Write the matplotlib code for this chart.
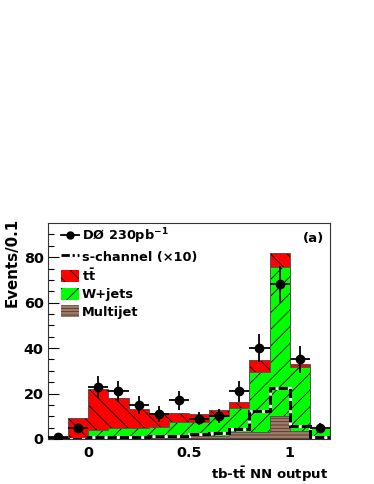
import numpy as np
import matplotlib
matplotlib.use("Agg")
import matplotlib.pyplot as plt
from matplotlib.lines import Line2D
from matplotlib.patches import Patch

plt.rcParams["font.family"] = ["DejaVu Sans"]
plt.rcParams["font.weight"] = "bold"
plt.rcParams["axes.labelweight"] = "bold"
plt.rcParams["mathtext.fontset"] = "custom"
plt.rcParams["mathtext.rm"] = "DejaVu Sans:bold"
plt.rcParams["mathtext.it"] = "DejaVu Sans:bold"
plt.rcParams["mathtext.bf"] = "DejaVu Sans:bold"
plt.rcParams["mathtext.default"] = "rm"
plt.rcParams["hatch.linewidth"] = 0.6

# binning of the NN output
bin_edges = [-0.2, -0.1, 0.0, 0.1, 0.2, 0.3, 0.4, 0.5, 0.6, 0.7, 0.8, 0.9, 1.0, 1.1, 1.2]
bin_centers = [-0.15, -0.05, 0.05, 0.15, 0.25, 0.35, 0.45, 0.55, 0.65, 0.75, 0.85, 0.95, 1.05, 1.15]

# stacked backgrounds (per bin, not cumulative)
multijet = [0.3, 0.2, 0.8, 1.0, 1.0, 1.2, 1.3, 1.5, 1.5, 3.0, 3.0, 10.1, 3.5, 0.5]
wjets    = [0.2, 0.1, 3.1, 3.7, 3.7, 4.0, 6.0, 6.1, 8.4, 10.8, 26.7, 65.6, 28.0, 4.2]
ttbar    = [0.5, 9.1, 18.1, 13.5, 8.3, 6.4, 4.3, 3.6, 2.7, 2.5, 4.9, 6.3, 1.5, 0.0]

# s-channel signal x10
schan = [0.0, 0.0, 0.8, 1.0, 1.0, 1.2, 1.5, 2.0, 2.5, 4.4, 12.3, 22.5, 5.7, 1.0]

# data
data = [1, 5, 23, 21, 15, 11, 17, 9, 10, 21, 40, 68, 35, 5]

mj = np.array(multijet); wj = np.array(wjets); tt = np.array(ttbar)
x = np.array(bin_centers); w = 0.1

fig = plt.figure(figsize=(3.74, 4.84), dpi=100)
ax = fig.add_axes([0.1283, 0.093, 0.754, 0.446])

ax.bar(x, mj, width=w, color="#a07b6b", hatch="-----", edgecolor="#4a3528", linewidth=0)
ax.bar(x, wj, width=w, bottom=mj, color="#00ff00", hatch="//", edgecolor="black", linewidth=0)
ax.bar(x, tt, width=w, bottom=mj + wj, color="#ff0000", hatch="\\\\", edgecolor="black", linewidth=0)
# outlines of each stacked layer
for top in [mj, mj + wj, mj + wj + tt]:
    ax.stairs(top, bin_edges, baseline=None, color="#555555", lw=0.7)

ax.stairs(schan, bin_edges, baseline=0, color="white", lw=2.2)
ax.stairs(schan, bin_edges, baseline=0, color="black", lw=2.2, linestyle=(0, (3, 1)))

yerr = np.sqrt(np.array(data, dtype=float))
ax.errorbar(x, data, yerr=yerr, xerr=0.05, fmt="o", color="black", ms=6,
            elinewidth=1.3, capsize=0, zorder=5)

ax.set_xlim(-0.2, 1.2)
ax.set_ylim(0, 95)
ax.set_xticks([0, 0.5, 1])
ax.set_xticklabels(["0", "0.5", "1"])
ax.set_yticks([0, 20, 40, 60, 80])
ax.set_yticks(np.arange(0, 95, 5), minor=True)
ax.tick_params(axis="y", which="major", direction="in", length=8, width=0.8, labelsize=10.4, pad=3)
ax.tick_params(axis="y", which="minor", direction="in", length=4, width=0.8)
ax.tick_params(axis="x", which="both", length=0, labelsize=10.4, pad=5)
for s in ax.spines.values():
    s.set_color("#333333"); s.set_linewidth(0.8)

ax.set_ylabel("Events/0.1", fontsize=10.8, loc="top")
ax.yaxis.set_label_coords(-0.10, 1.025)
ax.set_xlabel(r"tb-t$\bar{\rm t}$ NN output", fontsize=9.5, loc="right")
ax.xaxis.set_label_coords(0.995, -0.12)

ax.text(0.98, 0.93, "(a)", transform=ax.transAxes, ha="right", va="center", fontsize=9.5)

handles = [
    Line2D([0], [0], color="black", marker="o", ms=5, lw=1.3),
    Line2D([0], [0], color="black", lw=2, linestyle=(0, (3, 1, 0.8, 1))),
    Patch(facecolor="#ff0000", hatch="\\\\", edgecolor="black", linewidth=0),
    Patch(facecolor="#00ff00", hatch="//", edgecolor="black", linewidth=0),
    Patch(facecolor="#a07b6b", hatch="-----", edgecolor="#4a3528", linewidth=0),
]
labels = [r"DØ 230pb$^{-1}$", "s-channel (×10)", r"t$\bar{\rm t}$", "W+jets", "Multijet"]
ax.legend(handles, labels, loc="upper left", bbox_to_anchor=(0.02, 1.02), frameon=False,
          fontsize=9.3, handlelength=1.4, handleheight=1.1, handletextpad=0.2,
          labelspacing=0.3, borderaxespad=0.2)

fig.savefig("out.png", dpi=100)
